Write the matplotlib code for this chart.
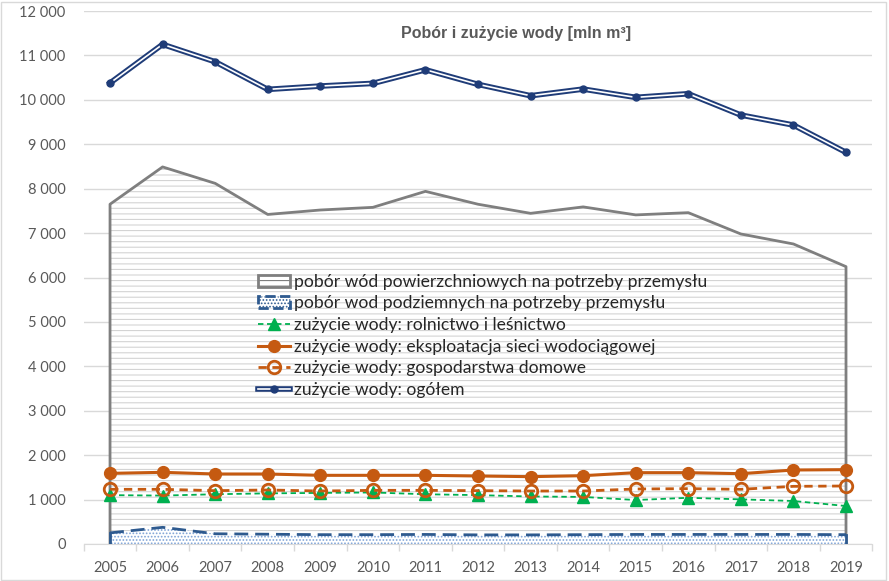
import numpy as np
import matplotlib
matplotlib.use('Agg')
import matplotlib.pyplot as plt
from matplotlib.patches import Patch, Rectangle
from matplotlib.lines import Line2D
from matplotlib.ticker import FuncFormatter, MultipleLocator

years = list(range(2005, 2020))

# pobór wód (areas)
surface = [7650, 8490, 8120, 7420, 7520, 7580, 7940, 7650, 7445, 7590, 7410, 7460, 6980, 6755, 6245]
ground = [250, 375, 230, 220, 210, 210, 215, 205, 205, 210, 215, 215, 215, 215, 210]

# zużycie wody (lines)
agri = [1100, 1090, 1120, 1140, 1150, 1160, 1120, 1100, 1070, 1060, 990, 1040, 1005, 968, 855]
network = [1590, 1614, 1576, 1576, 1546, 1546, 1546, 1531, 1516, 1538, 1606, 1606, 1583, 1666, 1674]
household = [1231, 1231, 1201, 1216, 1193, 1208, 1208, 1201, 1193, 1193, 1238, 1246, 1231, 1298, 1306]
total = [10380, 11250, 10858, 10236, 10311, 10371, 10678, 10349, 10093, 10243, 10056, 10138, 9658, 9433, 8818]

labels = ['pobór wód powierzchniowych na potrzeby przemysłu',
          'pobór wod podziemnych na potrzeby przemysłu',
          'zużycie wody: rolnictwo i leśnictwo',
          'zużycie wody: eksploatacja sieci wodociągowej',
          'zużycie wody: gospodarstwa domowe',
          'zużycie wody: ogółem']

GRAY = '#7f7f7f'
NAVY = '#1f3c78'
BLUE = '#2e5a8f'
ORANGE = '#c55a11'
GREEN = '#00b050'

plt.rcParams['font.family'] = ['Lato', 'DejaVu Sans']
plt.rcParams['hatch.linewidth'] = 0.8

fig = plt.figure(figsize=(8.89, 5.81), dpi=100)
ax = fig.add_axes([0.0942, 0.0637, 0.8870, 0.9173])
fig.patches.append(Rectangle((0.001, 0.002), 0.996, 0.994, transform=fig.transFigure,
                             fill=False, edgecolor='#d9d9d9', linewidth=1))

x = np.array(years)

# areas
ax.fill_between(x, 0, surface, facecolor='white', edgecolor='#d4d4d4', hatch='---',
                linewidth=0, zorder=2)
ax.plot(np.r_[x[0], x, x[-1]], np.r_[0, surface, 0], color=GRAY, lw=2, zorder=3)
ax.fill_between(x, 0, ground, facecolor='white', edgecolor='#7fa3d6', hatch='.....',
                linewidth=0, zorder=3)
ax.plot(x, ground, color=BLUE, lw=2, dashes=(5, 2.5), zorder=4)
ax.plot([x[0], x[0]], [0, ground[0]], color=BLUE, lw=2, zorder=4)
ax.plot([x[-1], x[-1]], [0, ground[-1]], color=BLUE, lw=2, zorder=4)

# lines
ax.plot(x, agri, color=GREEN, lw=1.3, ls=(0, (3, 2)), marker='^', ms=8, zorder=5)
ax.plot(x, network, color=ORANGE, lw=2.2, marker='o', ms=8.5, zorder=6)
ax.plot(x, household, color=ORANGE, lw=2, ls=(0, (3, 2)), marker='o', ms=9,
        mfc='none', mew=2, zorder=7)
ax.plot(x, total, color=NAVY, lw=4, zorder=8)
ax.plot(x, total, color='white', lw=1.2, zorder=9)
ax.plot(x, total, color=NAVY, lw=0, marker='o', ms=5, zorder=10)

ax.set_xlim(2004.5, 2019.5)
ax.set_ylim(0, 12000)
ax.yaxis.set_major_locator(MultipleLocator(1000))
ax.yaxis.set_major_formatter(FuncFormatter(lambda v, p: f'{int(v):,}'.replace(',', ' ')))
ax.set_xticks(years)
ax.set_xticks(np.arange(2004.5, 2020, 1), minor=True)
ax.tick_params(axis='x', which='major', length=0, pad=12, labelsize=10.5, labelcolor='#595959')
ax.tick_params(axis='x', which='minor', length=5, color='#d9d9d9', width=1)
ax.tick_params(axis='y', length=0, pad=13, labelsize=10.5, labelcolor='#595959')
ax.grid(axis='y', color='#d9d9d9', lw=1, zorder=0)
ax.set_axisbelow(True)
for s in ['top', 'right', 'left']:
    ax.spines[s].set_visible(False)
ax.spines['bottom'].set_color('#d9d9d9')
ax.spines['bottom'].set_zorder(1)

ax.text(0.5485, 0.972, 'Pobór i zużycie wody [mln m³]', transform=ax.transAxes,
        ha='center', va='top', fontsize=11.5, fontweight='bold', color='#595959',
        family=['Liberation Sans', 'DejaVu Sans'])

handles = [
    Patch(facecolor='white', edgecolor=GRAY, hatch='---', linewidth=2),
    Patch(facecolor='white', edgecolor=BLUE, hatch='.....', linewidth=2, linestyle='--'),
    Line2D([], [], color=GREEN, lw=1.3, ls=(0, (3, 2)), marker='^', ms=8),
    Line2D([], [], color=ORANGE, lw=2.2, marker='o', ms=8.5),
    Line2D([], [], color=ORANGE, lw=2, ls=(0, (3, 2)), marker='o', ms=9, mfc='none', mew=2),
    (Line2D([], [], color=NAVY, lw=4), Line2D([], [], color='white', lw=1.2),
     Line2D([], [], color=NAVY, lw=0, marker='o', ms=5)),
]
leg = ax.legend(handles, labels, loc='upper left', bbox_to_anchor=(0.212, 0.52),
                frameon=False, fontsize=12.6, handlelength=1.85, handletextpad=0.2,
                labelspacing=0.32, borderaxespad=0)
for t in leg.get_texts():
    t.set_color('#262626')
leg.set_zorder(11)

fig.savefig('out.png', dpi=100)
